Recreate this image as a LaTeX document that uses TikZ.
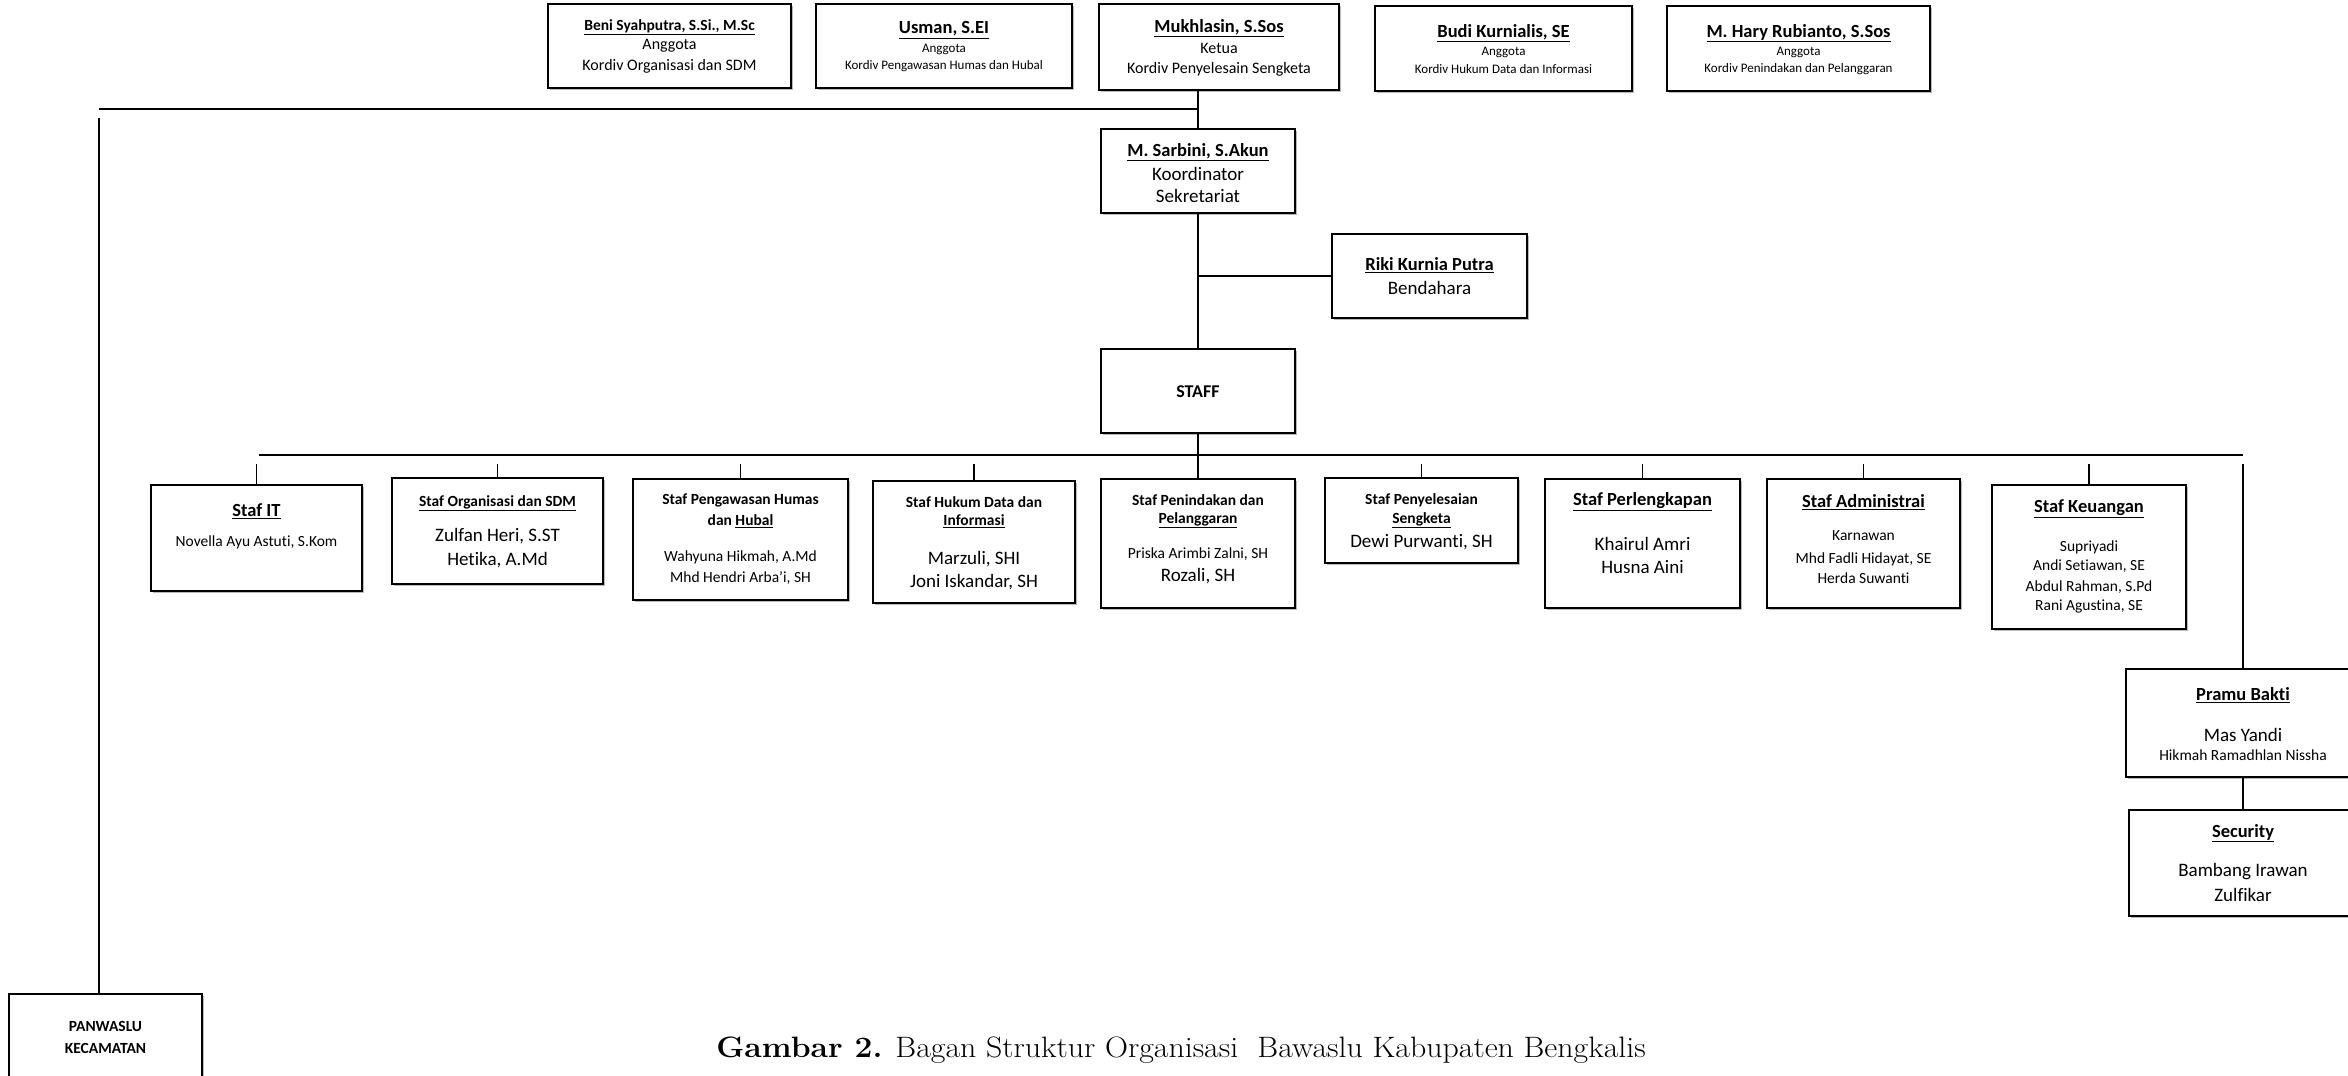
\documentclass[tikz,border=0pt]{standalone}
\usepackage{fontspec}
\setmainfont{Carlito}[Ligatures={NoCommon,NoContextual}]
\newfontfamily\capfont{Latin Modern Roman}
\usetikzlibrary{shadows}
\newcounter{tn}
\newcommand\tx[4]{\stepcounter{tn}\node[txt,font=\fontsize{#3}{#3}\selectfont] (t\thetn) at (#1,#2) {#4};}
\newcommand\bu[1]{\underline{\textbf{#1}}}
\begin{document}
\begin{tikzpicture}[x=1pt,y=-1pt,
  box/.style={draw=black,line width=1.6pt,fill=white,inner sep=0pt,
    drop shadow={shadow xshift=1.5pt,shadow yshift=-1.5pt,fill=black!45,opacity=0.6}},
  txt/.style={inner sep=0pt,align=center},
  ln/.style={line width=1.6pt}]
\useasboundingbox (0,0) rectangle (2348,1076);
% top row
\node[box,minimum width=243pt,minimum height=84pt] (beni) at (669.5,46) {};
\node[box,minimum width=256pt,minimum height=84pt] (usman) at (944,46) {};
\node[box,minimum width=240pt,minimum height=86pt] (muk) at (1219,47) {};
\node[box,minimum width=257pt,minimum height=85pt] (budi) at (1503.5,48.5) {};
\node[box,minimum width=263pt,minimum height=85pt] (hary) at (1798.5,48.5) {};
% secretariat
\node[box,minimum width=194pt,minimum height=84pt] (sarb) at (1198,171) {};
\node[box,minimum width=195pt,minimum height=84pt] (riki) at (1429.5,276) {};
\node[box,minimum width=194pt,minimum height=84pt] (staff) at (1198,391) {};
% staff row
\node[box,minimum width=211pt,minimum height=106pt] (it) at (256.5,538) {};
\node[box,minimum width=211pt,minimum height=106pt] (org) at (497.5,531) {};
\node[box,minimum width=215pt,minimum height=121pt] (peng) at (740.5,539.5) {};
\node[box,minimum width=202pt,minimum height=122pt] (hukum) at (974,542) {};
\node[box,minimum width=194pt,minimum height=129pt] (penind) at (1198,543.5) {};
\node[box,minimum width=193pt,minimum height=85pt] (penyel) at (1421.5,520.5) {};
\node[box,minimum width=195pt,minimum height=129pt] (perl) at (1642.5,543.5) {};
\node[box,minimum width=193pt,minimum height=129pt] (adm) at (1863.5,543.5) {};
\node[box,minimum width=194pt,minimum height=144pt] (keu) at (2089,557) {};
\node[box,minimum width=234pt,minimum height=108pt] (pramu) at (2243,723) {};
\node[box,minimum width=228pt,minimum height=106pt] (secu) at (2243,863) {};
\node[box,minimum width=193pt,minimum height=96pt] (panw) at (105.5,1042) {};
% connectors
\coordinate (tl) at (99,109);
\coordinate (lv) at (99,118);
\coordinate (sl) at (259,455);
\coordinate (sr) at (2243,455);
\coordinate (dr) at (0,464);
\coordinate (rv) at (2243,464);
\draw[ln] (sarb.north) -- (sarb.north |- muk.south);
\draw[ln] (tl) -- (tl -| sarb.north);
\draw[ln] (lv) -- (lv |- panw.north);
\draw[ln] (sarb.south) -- (staff.north);
\draw[ln] (riki.west) -- (riki.west -| sarb.south);
\draw[ln] (sl) -- (sr);
\draw[ln] (staff.south) -- (penind.north);
\foreach \b in {it,org,peng,hukum,penyel,perl,adm,keu}
  \draw[ln] (\b.north) -- (\b.north |- dr);
\draw[ln] (rv) -- (pramu.north);
\draw[ln] (pramu.south) -- (secu.north);
% texts top
\tx{669.5}{27}{15.5}{\bu{Beni Syahputra, S.Si., M.Sc}}
\tx{669.5}{46}{16}{Anggota}
\tx{669.5}{66}{16}{Kordiv Organisasi dan SDM}
\tx{944}{30}{18.5}{\bu{Usman, S.EI}}
\tx{944}{49}{13}{Anggota}
\tx{944}{66}{13}{Kordiv Pengawasan Humas dan Hubal}
\tx{1219}{28}{18.5}{\bu{Mukhlasin, S.Sos}}
\tx{1219}{48}{16}{Ketua}
\tx{1219}{69}{16}{Kordiv Penyelesain Sengketa}
\tx{1503.5}{33}{18.5}{\bu{Budi Kurnialis, SE}}
\tx{1503.5}{52}{13}{Anggota}
\tx{1503.5}{69}{13}{Kordiv Hukum Data dan Informasi}
\tx{1798.5}{33}{18.5}{\bu{M. Hary Rubianto, S.Sos}}
\tx{1798.5}{52}{13}{Anggota}
\tx{1798.5}{69}{13}{Kordiv Penindakan dan Pelanggaran}
% secretariat texts
\tx{1198}{152}{18.5}{\bu{M. Sarbini, S.Akun}}
\tx{1198}{174}{19}{Koordinator}
\tx{1198}{196}{19}{Sekretariat}
\tx{1429.5}{265}{18.5}{\bu{Riki Kurnia Putra}}
\tx{1429.5}{288}{19}{Bendahara}
\tx{1198}{392}{18}{\textbf{STAFF}}
% staff row texts
\tx{256.5}{511}{18.5}{\bu{Staf IT}}
\tx{256.5}{542}{15.5}{Novella Ayu Astuti, S.Kom}
\tx{497.5}{503}{15.5}{\bu{Staf Organisasi dan SDM}}
\tx{497.5}{536}{19}{Zulfan Heri, S.ST}
\tx{497.5}{560}{19}{Hetika, A.Md}
\tx{740.5}{500}{15.5}{\textbf{Staf Pengawasan Humas}}
\tx{740.5}{521}{15.5}{\textbf{dan \underline{Hubal}}}
\tx{740.5}{557}{15.5}{Wahyuna Hikmah, A.Md}
\tx{740.5}{578}{15.5}{Mhd Hendri Arba'i, SH}
\tx{974}{502}{15.5}{\textbf{Staf Hukum Data dan}}
\tx{974}{521}{15.5}{\bu{Informasi}}
\tx{974}{559}{19}{Marzuli, SHI}
\tx{974}{582}{19}{Joni Iskandar, SH}
\tx{1198}{500}{15.5}{\textbf{Staf Penindakan dan}}
\tx{1198}{520}{15.5}{\bu{Pelanggaran}}
\tx{1198}{554}{15.5}{Priska Arimbi Zalni, SH}
\tx{1198}{576}{19}{Rozali, SH}
\tx{1421.5}{500}{15.5}{\textbf{Staf Penyelesaian}}
\tx{1421.5}{520}{15.5}{\bu{Sengketa}}
\tx{1421.5}{542}{19}{Dewi Purwanti, SH}
\tx{1642.5}{502}{18.5}{\bu{Staf Perlengkapan}}
\tx{1642.5}{544}{19}{Khairul Amri}
\tx{1642.5}{567}{19}{Husna Aini}
\tx{1863.5}{502}{18.5}{\bu{Staf Administrai}}
\tx{1863.5}{536}{15.5}{Karnawan}
\tx{1863.5}{559}{15.5}{Mhd Fadli Hidayat, SE}
\tx{1863.5}{578}{15.5}{Herda Suwanti}
\tx{2089}{509}{18.5}{\bu{Staf Keuangan}}
\tx{2089}{547}{15.5}{Supriyadi}
\tx{2089}{566}{15.5}{Andi Setiawan, SE}
\tx{2089}{587}{15.5}{Abdul Rahman, S.Pd}
\tx{2089}{606}{15.5}{Rani Agustina, SE}
% right column
\tx{2243}{695}{18.5}{\bu{Pramu Bakti}}
\tx{2243}{735}{19}{Mas Yandi}
\tx{2243}{755}{15.5}{Hikmah Ramadhlan Nissha}
\tx{2243}{833}{18.5}{\bu{Security}}
\tx{2243}{872}{19}{Bambang Irawan}
\tx{2243}{895}{19}{Zulfikar}
% panwaslu
\tx{105.5}{1026}{15.5}{\textbf{PANWASLU}}
\tx{105.5}{1048}{15.5}{\textbf{KECAMATAN}}
% caption
\node[txt,font=\capfont\fontsize{29.5}{29.5}\selectfont] (cap) at (1181,1050) {\scalebox{1.08}[1]{\textbf{Gambar 2.} Bagan Struktur Organisasi\ \ Bawaslu Kabupaten Bengkalis}};
\end{tikzpicture}
\end{document}
